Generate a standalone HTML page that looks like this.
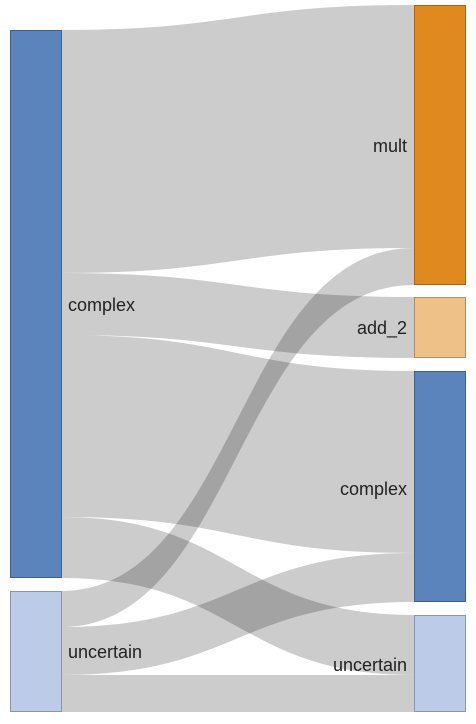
<!DOCTYPE html>
<html><head><style>body{margin:0;background:#fff}svg{display:block}text{font-family:"Liberation Sans",sans-serif;font-size:18px;fill:#222}</style></head><body>
<svg width="476" height="724" xmlns="http://www.w3.org/2000/svg">
<g fill="#000" fill-opacity="0.2">
<path d="M61,30 C237,30 237,5 414,5 L414,248 C237,248 237,273 61,273Z"/>
<path d="M61,273 C237,273 237,297 414,297 L414,358 C237,358 237,335 61,335Z"/>
<path d="M61,335 C237,335 237,371 414,371 L414,553 C237,553 237,517 61,517Z"/>
<path d="M61,517 C237,517 237,615 414,615 L414,675 C237,675 237,578 61,578Z"/>
<path d="M61,591 C237,591 237,248 414,248 L414,285 C237,285 237,627 61,627Z"/>
<path d="M61,627 C237,627 237,553 414,553 L414,602 C237,602 237,675 61,675Z"/>
<path d="M61,675 C237,675 237,675 414,675 L414,712 C237,712 237,712 61,712Z"/>
</g>
<rect x="10.5" y="30.5" width="51" height="547" fill="#5b84bc" stroke="#40618f"/>
<rect x="10.5" y="591.5" width="51" height="120" fill="#bccbe8" stroke="#8895ad"/>
<rect x="414.5" y="5.5" width="51" height="279" fill="#e0891e" stroke="#a86516"/>
<rect x="414.5" y="297.5" width="51" height="60" fill="#edc187" stroke="#b08f62"/>
<rect x="414.5" y="371.5" width="51" height="230" fill="#5b84bc" stroke="#40618f"/>
<rect x="414.5" y="615.5" width="51" height="96" fill="#bccbe8" stroke="#8895ad"/>
<text x="68" y="311">complex</text>
<text x="68" y="658">uncertain</text>
<text x="407" y="152" text-anchor="end">mult</text>
<text x="407" y="334" text-anchor="end">add_2</text>
<text x="407" y="495" text-anchor="end">complex</text>
<text x="407" y="671" text-anchor="end">uncertain</text>
</svg>
</body></html>
